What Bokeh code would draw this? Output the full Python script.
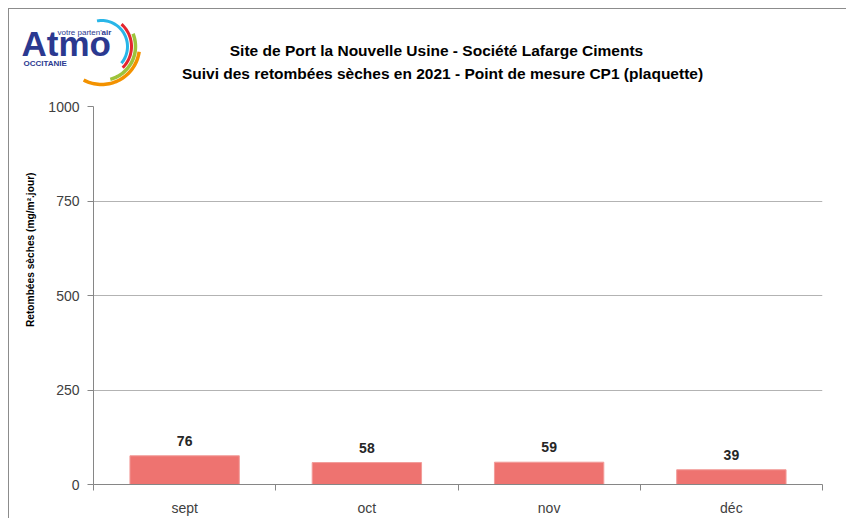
import numpy as np
from bokeh.plotting import figure
from bokeh.layouts import column, row
from bokeh.models import Range1d, FixedTicker, Title, ColumnDataSource
from bokeh.core.properties import value
from bokeh.embed import file_html
from bokeh.resources import INLINE

# ---- data ----
categories = ["sept", "oct", "nov", "déc"]
values = [76, 58, 59, 39]
y_ticks = [0, 250, 500, 750, 1000]
title_lines = [
    "Site de Port la Nouvelle Usine - Société Lafarge Ciments",
    "Suivi des retombées sèches en 2021 - Point de mesure CP1 (plaquette)",
]
y_label = "Retombées sèches (mg/m².jour)"

FONT = "Liberation Sans"
TXT = "#404040"
AXC = "#868686"
NAVY = "#2b3990"

OX, OY = 9, 9          # content origin inside the bordered container
TOTAL_W, TOTAL_H = 846, 518
HEAD_BOTTOM = 90

# ---------- header (titles + logo) ----------
hw, hh = TOTAL_W - OX, HEAD_BOTTOM - OY
head = figure(width=hw, height=hh, output_backend="svg", toolbar_location=None,
              x_range=Range1d(OX, OX + hw), y_range=Range1d(OY + hh, OY),
              x_axis_type=None, y_axis_type=None,
              min_border=0, min_border_left=0, min_border_right=0,
              min_border_top=0, min_border_bottom=0)
head.outline_line_color = None
head.grid.visible = False
head.background_fill_color = "white"
head.border_fill_color = "white"

def htext(x, y, text, size, bold=False, align="center", baseline="middle", color="black"):
    head.text(x=[x], y=[y], text=[text], text_align=align, text_baseline=baseline,
              text_font=value(FONT), text_font_style="bold" if bold else "normal",
              text_font_size=size, text_color=color)

htext(436, 50, title_lines[0], "15.5px", bold=True)
htext(442, 73, title_lines[1], "15.5px", bold=True)

htext(21, 43, "Atmo", "35px", bold=True, align="left", color=NAVY)
htext(57, 32, "votre parten'", "8px", align="left", color=NAVY)
htext(101, 32, "air", "8px", bold=True, align="left", color=NAVY)
htext(23, 63, "OCCITANIE", "8px", bold=True, align="left", color=NAVY)

def arc(cx, cy, r, a0, a1, w, color):
    t = np.radians(np.linspace(a0, a1, 40))
    xo = cx + (r + w / 2) * np.cos(t)
    yo = cy - (r + w / 2) * np.sin(t)
    xi = cx + (r - w / 2) * np.cos(t[::-1])
    yi = cy - (r - w / 2) * np.sin(t[::-1])
    head.patch(x=list(np.concatenate([xo, xi])), y=list(np.concatenate([yo, yi])),
               fill_color=color, line_color=None)

arc(101, 46, 26, 100, -40, 3, "#29b6e8")
arc(101, 46, 30, 48, -45, 3, "#e4262f")
arc(101, 46, 34, 22, -75, 3.5, "#9dc33b")
arc(101, 46, 38, -8, -118, 3.5, "#f39200")

# ---------- main chart ----------
FL, FR, FT, FB = 93, 822, 106, 486
mw, mh = TOTAL_W - OX, TOTAL_H - HEAD_BOTTOM
p = figure(width=mw, height=mh, output_backend="svg", toolbar_location=None,
           x_range=Range1d(0, len(categories)), y_range=Range1d(0, 1000),
           min_border_left=FL - OX, min_border_right=(OX + mw) - FR,
           min_border_top=FT - HEAD_BOTTOM, min_border_bottom=TOTAL_H - FB)
p.outline_line_color = None
p.background_fill_color = "white"
p.border_fill_color = "white"

xs = [i + 0.5 for i in range(len(categories))]
src = ColumnDataSource(dict(x=xs, top=values, lab=[str(v) for v in values]))
p.vbar(x="x", top="top", bottom=0, width=0.6, source=src,
       fill_color="#EE7370", line_color="#F29C99", line_width=1)
p.text(x="x", y="top", text="lab", source=src, text_align="center",
       text_baseline="alphabetic", y_offset=-15,
       text_font=value(FONT), text_font_style="bold", text_font_size="14px",
       text_color="#262626")

xa = p.xaxis[0]
xa.ticker = FixedTicker(ticks=xs, minor_ticks=list(range(len(categories) + 1)))
xa.major_label_overrides = {x: c for x, c in zip(xs, categories)}
xa.major_tick_line_color = None
xa.minor_tick_line_color = AXC
xa.minor_tick_out = 6
xa.minor_tick_in = 0
xa.axis_line_color = AXC
xa.major_label_text_font = FONT
xa.major_label_text_font_size = "14px"
xa.major_label_text_color = TXT
xa.major_label_standoff = 9

ya = p.yaxis[0]
ya.ticker = FixedTicker(ticks=y_ticks)
ya.minor_tick_line_color = None
ya.major_tick_line_color = AXC
ya.major_tick_out = 6
ya.major_tick_in = 0
ya.axis_line_color = AXC
ya.major_label_text_font = FONT
ya.major_label_text_font_size = "14px"
ya.major_label_text_color = TXT
ya.major_label_standoff = 8

p.xgrid.grid_line_color = None
p.ygrid.grid_line_color = "#b3b3b3"

p.add_layout(Title(text=y_label, align="right", offset=66, standoff=20, text_font=FONT,
                   text_font_style="bold", text_font_size="10.2px", text_color="black"), "left")

layout = column(row(head, spacing=0), p, spacing=0, margin=(8, 0, 0, 8),
                styles={"border-left": "1px solid #8c8c8c", "border-top": "1px solid #8c8c8c"})

open("out.html", "w").write(file_html(layout, INLINE))
